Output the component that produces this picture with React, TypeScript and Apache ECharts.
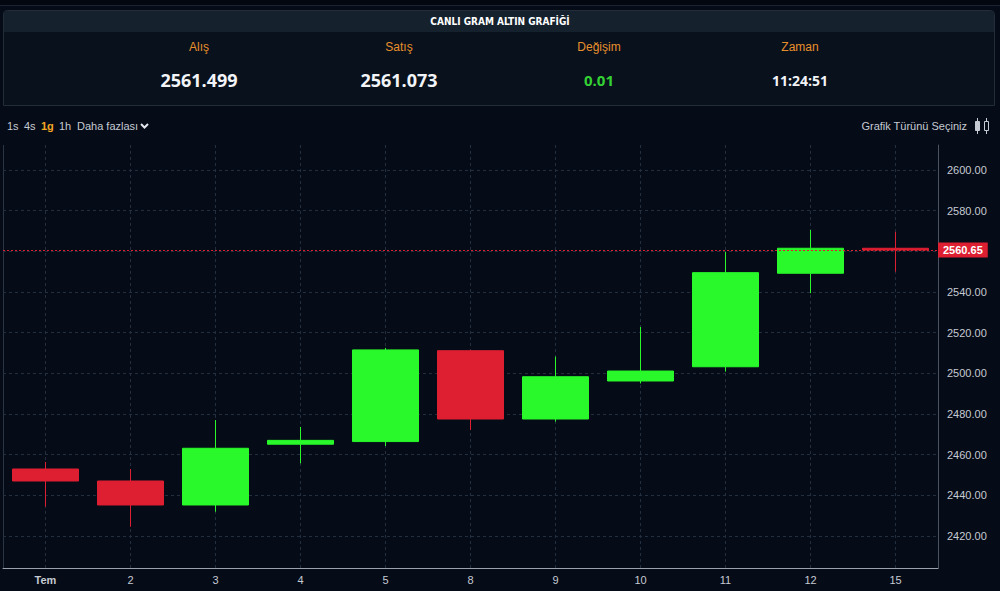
import React, { useEffect, useRef } from "react";
import * as echarts from "echarts";

const categories = ["Tem", "2", "3", "4", "5", "8", "9", "10", "11", "12", "15"];
const openValues = [2452.9, 2447.0, 2435.2, 2465.1, 2466.4, 2511.1, 2477.5, 2496.2, 2503.2, 2549.2, 2561.5];
const closeValues = [2447.0, 2435.2, 2463.1, 2467.0, 2511.5, 2477.5, 2498.3, 2501.1, 2549.5, 2561.5, 2560.65];
const lowValues = [2434.4, 2424.5, 2431.9, 2455.7, 2464.2, 2472.1, 2476.2, 2495.0, 2500.8, 2539.4, 2550.0];
const highValues = [2456.4, 2452.9, 2477.0, 2473.6, 2512.5, 2511.5, 2508.2, 2522.8, 2559.7, 2570.5, 2569.6];
const yGridValues = [2420, 2440, 2460, 2480, 2500, 2520, 2540, 2560, 2580, 2600];
const yTickLabels = [2420, 2440, 2460, 2480, 2500, 2520, 2540, 2580, 2600];
const lastPrice = 2560.65;

const chartTitle = "CANLI GRAM ALTIN GRAFİĞİ";
const headerLabels = ["Alış", "Satış", "Değişim", "Zaman"];
const headerValues = ["2561.499", "2561.073", "0.01", "11:24:51"];
const periodButtons = ["1s", "4s", "1g", "1h", "Daha fazlası"];
const chartTypeLabel = "Grafik Türünü Seçiniz";

const GREEN = "#29f82a";
const RED = "#de1f31";
const BG = "#050b17";
const TEXT = "#c5cad3";
const ORANGE = "#e8902c";
const FONT = '"Liberation Sans", Arial, sans-serif';

function txt(x: number, y: number, text: string, fill: string, font: string, align = "center") {
  return {
    type: "text",
    x,
    y,
    silent: true,
    style: {
      text,
      fill,
      font,
      align,
      textAlign: align,
      verticalAlign: "middle",
      textVerticalAlign: "middle",
    },
  };
}

export default function App() {
  const ref = useRef<HTMLDivElement>(null);
  useEffect(() => {
    if (!ref.current) return;
    const chart = echarts.init(ref.current, undefined, { renderer: "svg" });

    const headerX = [199, 399, 599, 800];
    const periodX = [7, 24, 41, 59, 77];

    const graphic: any[] = [
      { type: "rect", silent: true, shape: { x: 0, y: 0, width: 1000, height: 5 }, style: { fill: "#03070f" } },
      { type: "line", silent: true, shape: { x1: 0, y1: 5.5, x2: 1000, y2: 5.5 }, style: { stroke: "#1b2430", lineWidth: 1 } },
      {
        type: "rect",
        silent: true,
        shape: { x: 3.5, y: 10.5, width: 991, height: 95, r: [4, 4, 0, 0] },
        style: { fill: "#08111c", stroke: "#232d3a", lineWidth: 1 },
      },
      {
        type: "rect",
        silent: true,
        shape: { x: 4, y: 11, width: 990, height: 21, r: [3, 3, 0, 0] },
        style: { fill: "#15212d" },
      },
      txt(500, 21, chartTitle, "#ffffff", `bold 10px "Liberation Sans Narrow", "DejaVu Sans Condensed", Arial, sans-serif`),
      // left border of plot
      { type: "line", silent: true, shape: { x1: 3.5, y1: 145, x2: 3.5, y2: 568 }, style: { stroke: "#2a3442", lineWidth: 1 } },
      // chevron
      {
        type: "polyline",
        silent: true,
        shape: { points: [[141, 124], [144.5, 127.5], [148, 124]] },
        style: { stroke: "#e3e6ec", lineWidth: 2, fill: null },
      },
      txt(967, 126, chartTypeLabel, TEXT, `11px ${FONT}`, "right"),
      // candle icon
      { type: "line", silent: true, shape: { x1: 977.5, y1: 118, x2: 977.5, y2: 134 }, style: { stroke: TEXT, lineWidth: 1 } },
      { type: "rect", silent: true, shape: { x: 975.5, y: 121.5, width: 4, height: 9 }, style: { fill: TEXT, stroke: TEXT, lineWidth: 1 } },
      { type: "line", silent: true, shape: { x1: 986.5, y1: 118, x2: 986.5, y2: 134 }, style: { stroke: TEXT, lineWidth: 1 } },
      { type: "rect", silent: true, shape: { x: 984.5, y: 121.5, width: 4, height: 9 }, style: { fill: BG, stroke: TEXT, lineWidth: 1 } },
    ];
    headerLabels.forEach((l, i) => {
      graphic.push(txt(headerX[i], 47, l, ORANGE, `12px ${FONT}`));
    });
    headerValues.forEach((v, i) => {
      const fill = i === 2 ? "#34d134" : "#f2f4f7";
      const size = i === 3 ? 14 : i === 2 ? 15 : 18;
      graphic.push(txt(headerX[i], 80, v, fill, `bold ${size}px "Open Sans", "Liberation Sans", sans-serif`));
    });
    periodButtons.forEach((p, i) => {
      graphic.push(txt(periodX[i], 126, p, p === "1g" ? "#f5a623" : TEXT, `${p === "1g" ? "bold " : ""}11px ${FONT}`, "left"));
    });

    const option: any = {
      animation: false,
      backgroundColor: BG,
      graphic,
      grid: { left: 3, right: 62, top: 145, bottom: 23, containLabel: false },
      xAxis: {
        type: "category",
        data: categories,
        boundaryGap: true,
        axisLine: { show: true, lineStyle: { color: "#9aa2ae", width: 1 } },
        axisTick: { show: false },
        splitLine: { show: false },
        axisLabel: {
          color: TEXT,
          fontSize: 11,
          fontFamily: FONT,
          margin: 6,
          formatter: (v: string) => (v === "Tem" ? "{b|Tem}" : v),
          rich: { b: { fontWeight: "bold", color: TEXT, fontSize: 11, fontFamily: FONT } },
        },
      },
      yAxis: {
        type: "value",
        position: "right",
        min: 2404.2,
        max: 2612.3,
        scale: true,
        axisLine: { show: true, lineStyle: { color: "#4a5361", width: 1 } },
        axisTick: { show: false, customValues: yTickLabels },
        splitLine: { show: false },
        axisLabel: {
          customValues: yTickLabels,
          color: TEXT,
          fontSize: 11,
          fontFamily: FONT,
          margin: 9,
          formatter: (v: number) => v.toFixed(2),
        },
      },
      series: [
        {
          type: "line",
          z: 1,
          data: closeValues,
          showSymbol: false,
          symbol: "none",
          silent: true,
          lineStyle: { opacity: 0, width: 0 },
          markLine: {
            z: 1,
            silent: true,
            symbol: ["none", "none"],
            animation: false,
            label: { show: false },
            lineStyle: { color: "#232f3e", type: [3, 3], width: 1 },
            data: [
              ...yGridValues.map((v) => ({ yAxis: v })),
              ...categories.map((c) => ({ xAxis: c })),
            ],
          },
        },
        {
          type: "candlestick",
          z: 3,
          barWidth: 67,
          data: categories.map((_, i) => [openValues[i], closeValues[i], lowValues[i], highValues[i]]),
          itemStyle: {
            color: GREEN,
            color0: RED,
            borderColor: GREEN,
            borderColor0: RED,
            borderWidth: 1,
          },
          markLine: {
            z: 6,
            silent: true,
            symbol: ["none", "none"],
            animation: false,
            data: [
              {
                yAxis: lastPrice,
                lineStyle: { color: RED, type: [2, 2], width: 1 },
                label: {
                  show: true,
                  position: "end",
                  distance: 0,
                  formatter: lastPrice.toFixed(2),
                  backgroundColor: RED,
                  color: "#ffffff",
                  fontSize: 11,
                  fontWeight: "bold",
                  fontFamily: FONT,
                  padding: [2, 5, 2, 5],
                },
              },
            ],
          },
        },
      ],
    };
    chart.setOption(option);
    return () => chart.dispose();
  }, []);
  return (
    <div
      ref={ref}
      style={{ position: "fixed", left: 0, top: 0, width: 1000, height: 591, background: BG }}
    />
  );
}
